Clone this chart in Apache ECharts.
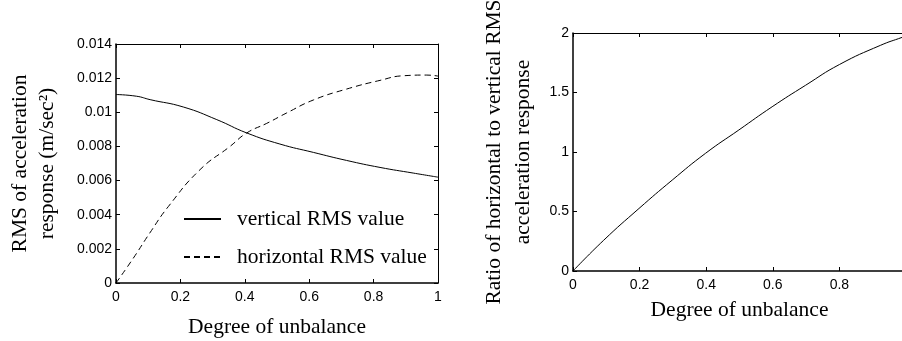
<!DOCTYPE html>
<html>
<head>
<meta charset="utf-8">
<script src="https://cdn.jsdelivr.net/npm/echarts@6/dist/echarts.min.js"></script>
<style>html,body{margin:0;padding:0;background:#fff}#c{width:902px;height:341px}</style>
</head>
<body>
<div id="c"></div>
<script>
// ---- data ----
const xTicks = [0, 0.2, 0.4, 0.6, 0.8, 1];
const xVert = [0, 0.064, 0.106, 0.209, 0.313, 0.406, 0.509, 0.613, 0.716, 0.82, 0.923, 1.0];
const vertRMS = [0.01104, 0.01094, 0.01074, 0.01031, 0.00957, 0.00879, 0.00814, 0.00765, 0.00718, 0.00677, 0.00644, 0.0062];
const xHoriz = [0, 0.054, 0.105, 0.163, 0.261, 0.354, 0.406, 0.468, 0.53, 0.613, 0.716, 0.82, 0.892, 0.965, 1.0];
const horizRMS = [0, 0.00146, 0.00293, 0.00449, 0.00664, 0.008, 0.00879, 0.00935, 0.00996, 0.01072, 0.01136, 0.01187, 0.01214, 0.01218, 0.01212];
const xRatio = [0, 0.092, 0.198, 0.298, 0.398, 0.498, 0.598, 0.698, 0.8, 0.923, 0.988, 1.0];
const ratio = [0, 0.258, 0.525, 0.764, 0.989, 1.185, 1.38, 1.56, 1.735, 1.896, 1.963, 1.975];
const seriesNames = ['vertical RMS value', 'horizontal RMS value', 'ratio'];

const pairs = (xs, ys) => xs.map((x, i) => [x, ys[i]]);
const SANS = '"Liberation Sans", Arial, sans-serif';
const SERIF = '"Liberation Serif", "Times New Roman", serif';
const TFS = 21.5;

function xAx(grid, bottom, name, gap) {
  return {
    type: 'value', gridIndex: grid, min: 0, max: 1, interval: 0.2,
    position: bottom ? 'bottom' : 'top',
    name: bottom ? name : '', nameLocation: 'middle', nameGap: gap,
    nameTextStyle: { fontFamily: SERIF, fontSize: TFS, color: '#000' },
    axisLine: { show: true, onZero: false, lineStyle: { color: '#000', width: bottom ? 1.5 : 1 } },
    axisTick: { show: true, inside: true, length: 4, lineStyle: { color: '#000' } },
    axisLabel: { show: bottom, margin: 7, fontFamily: SANS, fontSize: 14, color: '#000',
                 showMinLabel: true, showMaxLabel: true },
    splitLine: { show: false }
  };
}
function yAx(grid, left, max, interval, name, gap, lh) {
  return {
    type: 'value', gridIndex: grid, min: 0, max: max, interval: interval,
    position: left ? 'left' : 'right',
    name: left ? name : '', nameLocation: 'middle', nameGap: gap,
    nameTextStyle: { fontFamily: SERIF, fontSize: TFS, color: '#000', lineHeight: lh },
    axisLine: { show: true, onZero: false, lineStyle: { color: '#000', width: left ? 1.5 : 1 } },
    axisTick: { show: true, inside: true, length: 4, lineStyle: { color: '#000' } },
    axisLabel: { show: left, margin: 4, fontFamily: SANS, fontSize: 14, color: '#000' },
    splitLine: { show: false }
  };
}

const chart = echarts.init(document.getElementById('c'), null, { renderer: 'canvas' });
chart.setOption({
  animation: false,
  backgroundColor: '#fff',
  grid: [
    { left: 116, top: 44, width: 322, height: 239, outerBoundsMode: 'none', containLabel: false },
    { left: 573, top: 33, width: 333, height: 238, outerBoundsMode: 'none', containLabel: false }
  ],
  xAxis: [
    xAx(0, true, 'Degree of unbalance', 33),
    xAx(0, false),
    xAx(1, true, 'Degree of unbalance', 28),
    xAx(1, false)
  ],
  yAxis: [
    yAx(0, true, 0.014, 0.002, 'RMS of acceleration\nresponse (m/sec\u00B2)', 55, 27),
    yAx(0, false, 0.014, 0.002),
    yAx(1, true, 2, 0.5, 'Ratio of horizontal to vertical RMS\nacceleration response', 35, 29),
    yAx(1, false, 2, 0.5)
  ],
  legend: {
    data: [seriesNames[0], seriesNames[1]],
    orient: 'vertical', left: 183, top: 208, padding: 0,
    itemWidth: 37, itemHeight: 14, itemGap: 16,
    itemStyle: { opacity: 0 },
    textStyle: { fontFamily: SERIF, fontSize: TFS, color: '#000', padding: [0, 0, 0, 11] }
  },
  series: [
    { name: seriesNames[0], type: 'line', xAxisIndex: 0, yAxisIndex: 0, smooth: true, symbol: 'none',
      data: pairs(xVert, vertRMS), lineStyle: { color: '#000', width: 1, type: 'solid' }, itemStyle: { color: '#000' } },
    { name: seriesNames[1], type: 'line', xAxisIndex: 0, yAxisIndex: 0, smooth: true, symbol: 'none',
      data: pairs(xHoriz, horizRMS), lineStyle: { color: '#000', width: 1, type: [6, 4] }, itemStyle: { color: '#000' } },
    { name: seriesNames[2], type: 'line', xAxisIndex: 2, yAxisIndex: 2, smooth: true, symbol: 'none',
      data: pairs(xRatio, ratio), lineStyle: { color: '#000', width: 1 }, itemStyle: { color: '#000' } }
  ]
});
</script>
</body>
</html>
